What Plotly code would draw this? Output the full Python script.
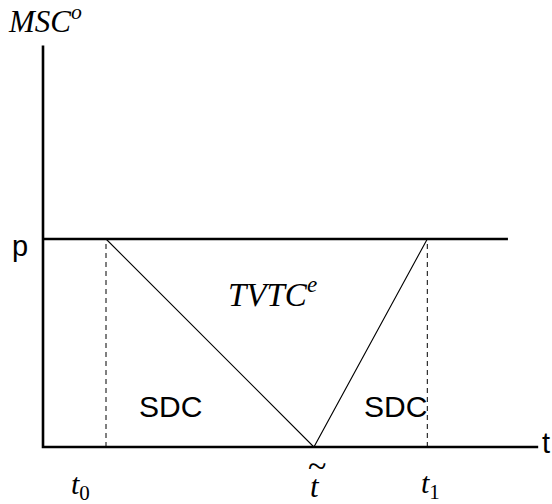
import plotly.graph_objects as go

# ---- data (conceptual units) ----
price_p = 1.0
t0 = 1.0
t_tilde = 4.3
t1 = 6.1
x_axis_end = 7.86
p_line_end = 7.38
y_axis_top = 1.93

W, H = 552, 504
x_range = [-0.6825, 8.0794]
y_range = [-0.274, 2.149]

def pp(px, py):
    """pixel -> paper coords"""
    return px / W, 1 - py / H

fig = go.Figure()

# axes
fig.add_trace(go.Scatter(x=[0, 0, x_axis_end], y=[y_axis_top, 0, 0], mode="lines",
                         line=dict(color="black", width=2.6), hoverinfo="skip"))
# price line p
fig.add_trace(go.Scatter(x=[0, p_line_end], y=[price_p, price_p], mode="lines",
                         line=dict(color="black", width=2.6), hoverinfo="skip"))
# triangle V
fig.add_trace(go.Scatter(x=[t0, t_tilde, t1], y=[price_p, 0, price_p], mode="lines",
                         line=dict(color="black", width=1.1), hoverinfo="skip"))
# dashed verticals
for tx in (t0, t1):
    fig.add_trace(go.Scatter(x=[tx, tx], y=[0, price_p], mode="lines",
                             line=dict(color="black", width=1, dash="5px,4px"), hoverinfo="skip"))

serif = "Liberation Serif, Times New Roman, serif"
sans = "Liberation Sans, Arial, sans-serif"

def label(text, px, py, size, family, xanchor="center", yanchor="middle"):
    x, y = pp(px, py)
    fig.add_annotation(x=x, y=y, xref="paper", yref="paper", text=text, showarrow=False,
                       xanchor=xanchor, yanchor=yanchor,
                       font=dict(family=family, size=size, color="black"))

label("<i>MSC<sup>o</sup></i>", 6, 20, 31, serif, xanchor="left")
label("p", 20, 246, 29, sans)
label("<i>TVTC<sup>e</sup></i>", 272, 292, 33, serif)
label("SDC", 170, 406, 30, sans)
label("SDC", 395, 406, 30, sans)
label("t", 546, 443, 29, sans)
label("<i>t</i><sub>0</sub>", 80, 486, 30, serif)
label("<i>t</i>", 315, 486, 31, serif)
label("~", 317, 465, 34, serif)
label("<i>t</i><sub>1</sub>", 430, 485, 30, serif)

fig.update_layout(
    width=W, height=H,
    margin=dict(l=0, r=0, t=0, b=0),
    paper_bgcolor="white", plot_bgcolor="white",
    showlegend=False,
    xaxis=dict(range=x_range, visible=False, fixedrange=True),
    yaxis=dict(range=y_range, visible=False, fixedrange=True),
)

fig.write_html("out.html", config={"displayModeBar": False},
               post_script="document.body.style.margin='0';document.body.style.overflow='hidden';")
